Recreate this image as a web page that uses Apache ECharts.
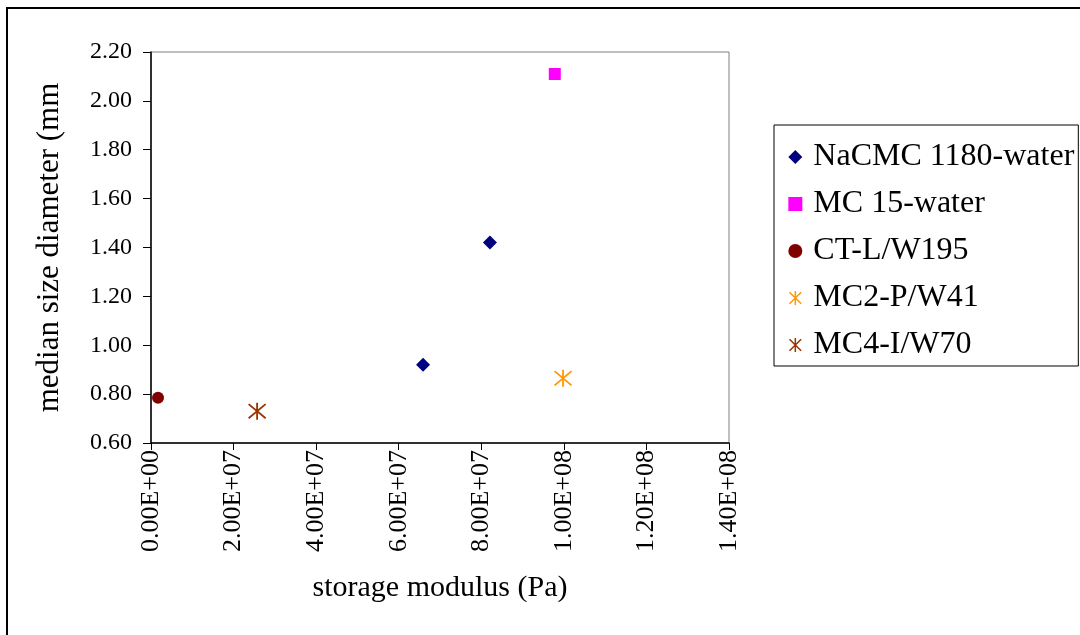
<!DOCTYPE html>
<html>
<head>
<meta charset="utf-8">
<script src="https://cdn.jsdelivr.net/npm/echarts@6/dist/echarts.min.js"></script>
<style>
  html, body { margin: 0; padding: 0; background: #fff; }
  #chart { width: 1080px; height: 635px; }
</style>
</head>
<body>
<div id="chart"></div>
<script>
// Median droplet size versus storage modulus for each continuous-phase system
const seriesNames = ['NaCMC 1180-water', 'MC 15-water', 'CT-L/W195', 'MC2-P/W41', 'MC4-I/W70'];
const nacmcWater = [[6.59e7, 0.92], [8.21e7, 1.42]];
const mc15Water = [[9.78e7, 2.11]];
const ctlW195 = [[1.7e6, 0.785]];
const mc2pW41 = [[9.98e7, 0.865]];
const mc4iW70 = [[2.57e7, 0.73]];

const xTicks = { min: 0, max: 1.4e8, step: 2e7 };
const yTicks = { min: 0.6, max: 2.2, step: 0.2 };

const serif = '"Liberation Serif", "DejaVu Serif", serif';
// Asterisk marker: two diagonals plus a vertical stroke
const starPath = 'path://M0,0L10,10M10,0L0,10M5,-1L5,11';

function sci(v) {
  if (v === 0) return '0.00E+00';
  const exp = Math.floor(Math.log10(Math.abs(v)) + 1e-9);
  const mant = v / Math.pow(10, exp);
  const e = (exp < 0 ? '-' : '+') + String(Math.abs(exp)).padStart(2, '0');
  return mant.toFixed(2) + 'E' + e;
}

const chart = echarts.init(document.getElementById('chart'));
chart.setOption({
  backgroundColor: '#fff',
  animation: false,
  graphic: [{
    type: 'rect',
    shape: { x: 7, y: 8, width: 1100, height: 700 },
    style: { fill: 'none', stroke: '#000', lineWidth: 2 },
    silent: true
  }],
  grid: { left: 151, top: 52, right: 351, bottom: 192, show: true, borderColor: '#808080', borderWidth: 1 },
  legend: {
    orient: 'vertical',
    left: 774, top: 125,
    padding: [16, 4, 5, 13],
    itemGap: 15,
    itemWidth: 14, itemHeight: 14,
    borderColor: '#000', borderWidth: 1,
    backgroundColor: '#fff',
    textStyle: { fontFamily: serif, fontSize: 32, color: '#000', padding: [0, 0, 0, 6] },
    data: [
      { name: seriesNames[0], icon: 'diamond', itemStyle: { color: '#000080', opacity: 1 } },
      { name: seriesNames[1], icon: 'rect', itemStyle: { color: '#FF00FF', opacity: 1 } },
      { name: seriesNames[2], icon: 'circle', itemStyle: { color: '#800000', opacity: 1 } },
      { name: seriesNames[3], icon: starPath, itemStyle: { color: 'none', borderColor: '#FF9900', borderWidth: 1.5, opacity: 1 } },
      { name: seriesNames[4], icon: starPath, itemStyle: { color: 'none', borderColor: '#993300', borderWidth: 1.5, opacity: 1 } }
    ]
  },
  xAxis: {
    type: 'value',
    min: xTicks.min, max: xTicks.max, interval: xTicks.step,
    name: 'storage modulus (Pa)',
    nameLocation: 'middle', nameGap: 130,
    nameTextStyle: { fontFamily: serif, fontSize: 30, color: '#000' },
    axisLine: { onZero: false, lineStyle: { color: '#000', width: 1.5 } },
    axisTick: { show: true, length: 7, lineStyle: { color: '#000' } },
    axisLabel: { rotate: 90, fontFamily: serif, fontSize: 26, color: '#000', margin: 7, formatter: sci },
    splitLine: { show: false }
  },
  yAxis: {
    type: 'value',
    min: yTicks.min, max: yTicks.max, interval: yTicks.step,
    name: 'median size diameter (mm)',
    nameLocation: 'middle', nameGap: 86,
    nameTruncate: { maxWidth: 340, ellipsis: '' },
    nameTextStyle: { fontFamily: serif, fontSize: 31, color: '#000' },
    axisLine: { onZero: false, lineStyle: { color: '#000', width: 1.5 } },
    axisTick: { show: true, length: 8, lineStyle: { color: '#000' } },
    axisLabel: { fontFamily: serif, fontSize: 24, color: '#000', margin: 19, formatter: v => v.toFixed(2) },
    splitLine: { show: false }
  },
  series: [
    { name: seriesNames[0], type: 'scatter', data: nacmcWater, symbol: 'diamond', symbolSize: 14, itemStyle: { color: '#000080', opacity: 1 } },
    { name: seriesNames[1], type: 'scatter', data: mc15Water, symbol: 'rect', symbolSize: 12, itemStyle: { color: '#FF00FF', opacity: 1 } },
    { name: seriesNames[2], type: 'scatter', data: ctlW195, symbol: 'circle', symbolSize: 12, itemStyle: { color: '#800000', opacity: 1 } },
    { name: seriesNames[3], type: 'scatter', data: mc2pW41, symbol: starPath, symbolSize: 17, itemStyle: { color: 'none', borderColor: '#FF9900', borderWidth: 1.8, opacity: 1 } },
    { name: seriesNames[4], type: 'scatter', data: mc4iW70, symbol: starPath, symbolSize: 17, itemStyle: { color: 'none', borderColor: '#993300', borderWidth: 1.8, opacity: 1 } }
  ]
});
</script>
</body>
</html>
